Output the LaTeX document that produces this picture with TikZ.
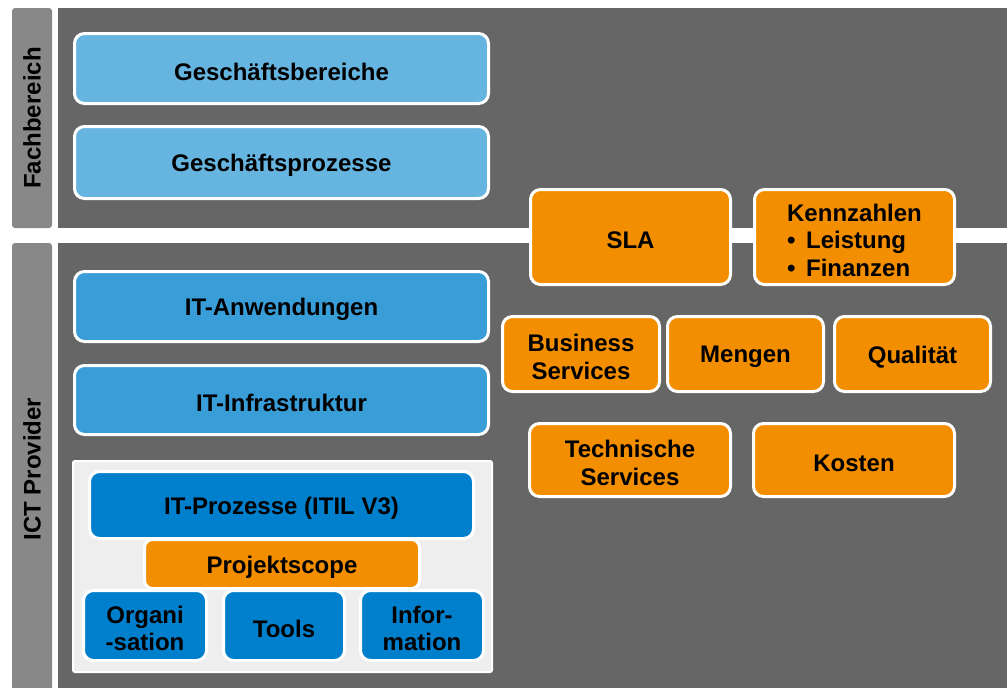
\documentclass[tikz,border=0pt]{standalone}
\usepackage{fontspec}
\setmainfont{Liberation Sans}
\definecolor{bar}{HTML}{888888}
\definecolor{panel}{HTML}{666666}
\definecolor{lblue}{HTML}{66B4E0}
\definecolor{mblue}{HTML}{399DD8}
\definecolor{dblue}{HTML}{0080CC}
\definecolor{orng}{HTML}{F28E00}
\definecolor{inner}{HTML}{EEEEEE}
\tikzset{
  box/.style={draw=white, line width=3pt, rounded corners=10pt, inner sep=0pt},
  txt/.style={align=center, font=\fontsize{24}{27.5}\selectfont\bfseries, text=black, inner sep=0pt},
  lbl/.style={rotate=90, font=\fontsize{24}{27.5}\selectfont\bfseries, text=black},
}
\newcommand{\bx}[6][]{%
  \node[box,#1,minimum width=#4,minimum height=#5] (#2) at (#3) {};
  \node[txt,#1,draw=none,fill=none] (#2-t) at ([yshift=-3pt]#2.center) {#6};}
\begin{document}
\begin{tikzpicture}[x=1pt,y=-1pt]
\fill[white] (0,0) rectangle (1007,688);
\useasboundingbox (0,0) rectangle (1007,688);
% bars and panels
\fill[bar, rounded corners=3pt] (12,8) rectangle (52,228);
\fill[panel] (58,8) rectangle (1007,228);
\fill[bar, rounded corners=3pt] (12,243) rectangle (52,700);
\fill[panel] (58,243) rectangle (1007,700);
\node[lbl] (fach) at (32,118) {Fachbereich};
\node[lbl] (ict) at (32,469) {ICT Provider};
% left column
\bx[fill=lblue]{gb}{281.5,68.5}{414pt}{70pt}{Geschäftsbereiche}
\bx[fill=lblue]{gp}{281.5,162.5}{414pt}{72pt}{Geschäftsprozesse}
\bx[fill=mblue]{ita}{281.5,306.5}{414pt}{70pt}{IT-Anwendungen}
\bx[fill=mblue]{iti}{281.5,400}{414pt}{69pt}{IT-Infrastruktur}
\node[draw=white, line width=2pt, fill=inner, rounded corners=2pt, minimum width=419pt, minimum height=211pt, inner sep=0pt] (pan) at (282.5,566.5) {};
\bx[fill=dblue]{itp}{281.5,505}{384pt}{67pt}{IT-Prozesse (ITIL V3)}
\bx[fill=dblue]{org}{145,625.5}{123pt}{70pt}{Organi\\-sation}
\bx[fill=dblue]{tools}{284,625.5}{121pt}{70pt}{Tools}
\bx[fill=dblue]{info}{422,625.5}{123pt}{70pt}{Infor-\\mation}
\bx[fill=orng, rounded corners=8pt]{proj}{282,564}{275pt}{49pt}{Projektscope}
% white band
\fill[white] (490,228) rectangle (1007,243);
% right side
\bx[fill=orng]{sla}{630.5,237}{200pt}{95pt}{SLA}
\bx[fill=orng, align=left]{kz}{854.5,237}{200pt}{95pt}{Kennzahlen\\\makebox[19pt][l]{\textbullet}Leistung\\\makebox[19pt][l]{\textbullet}Finanzen}
\bx[fill=orng]{bs}{581,354}{157pt}{75pt}{Business\\Services}
\bx[fill=orng]{men}{745.5,354}{156pt}{75pt}{Mengen}
\bx[fill=orng]{qual}{912.5,354}{156pt}{75pt}{Qualität}
\bx[fill=orng]{ts}{630,460}{201pt}{73pt}{Technische\\Services}
\bx[fill=orng]{kos}{854,460}{201pt}{73pt}{Kosten}
\end{tikzpicture}
\end{document}
